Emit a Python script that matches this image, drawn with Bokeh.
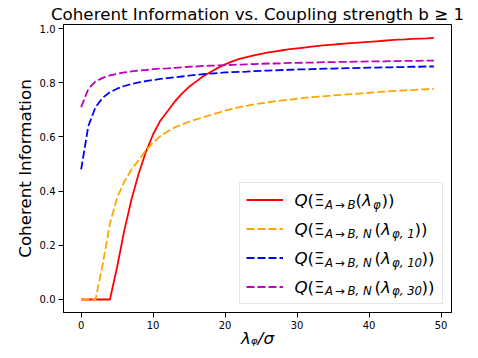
from bokeh.plotting import figure
from bokeh.models import Range1d, Legend, LegendItem, Label, FixedTicker, NumeralTickFormatter
from bokeh.embed import file_html
from bokeh.resources import INLINE

# ---- data ----
lam = [0, 1, 2, 3, 4, 5, 6, 7, 8, 9, 10, 11, 12, 13, 14, 15, 16, 17, 18, 19,
       20, 21, 22, 23, 24, 25, 26, 27, 28, 29, 30, 31, 32, 33, 34, 35, 36, 37, 38, 39,
       40, 41, 42, 43, 44, 45, 46, 47, 48, 49]

q_full = [0, 0, 0, 0, 0, 0.12, 0.255, 0.37, 0.465, 0.545,
          0.61, 0.66, 0.695, 0.73, 0.76, 0.785, 0.805, 0.825, 0.84, 0.855,
          0.868, 0.879, 0.888, 0.895, 0.901, 0.907, 0.912, 0.916, 0.92, 0.924,
          0.927, 0.93, 0.933, 0.936, 0.939, 0.941, 0.943, 0.945, 0.947, 0.949,
          0.951, 0.953, 0.955, 0.957, 0.959, 0.96, 0.962, 0.963, 0.964, 0.966]

q_n1 = [0, 0, 0, 0.13, 0.28, 0.375, 0.435, 0.48, 0.515, 0.55,
        0.58, 0.603, 0.62, 0.635, 0.646, 0.656, 0.665, 0.673, 0.681, 0.689,
        0.697, 0.704, 0.71, 0.715, 0.72, 0.724, 0.728, 0.732, 0.735, 0.738,
        0.741, 0.744, 0.747, 0.749, 0.751, 0.753, 0.755, 0.757, 0.759, 0.761,
        0.763, 0.765, 0.767, 0.769, 0.77, 0.772, 0.773, 0.775, 0.776, 0.777]

q_n10 = [0.48, 0.64, 0.71, 0.745, 0.765, 0.778, 0.788, 0.795, 0.801, 0.806,
         0.81, 0.814, 0.817, 0.82, 0.823, 0.826, 0.829, 0.832, 0.834, 0.836,
         0.838, 0.839, 0.84, 0.841, 0.843, 0.844, 0.845, 0.846, 0.847, 0.848,
         0.849, 0.849, 0.85, 0.851, 0.852, 0.852, 0.853, 0.854, 0.854, 0.855,
         0.856, 0.856, 0.857, 0.857, 0.858, 0.858, 0.859, 0.859, 0.86, 0.86]

q_n30 = [0.71, 0.777, 0.805, 0.818, 0.827, 0.833, 0.838, 0.842, 0.845, 0.847,
         0.85, 0.852, 0.853, 0.855, 0.857, 0.859, 0.86, 0.862, 0.863, 0.864,
         0.865, 0.866, 0.867, 0.868, 0.869, 0.87, 0.871, 0.871, 0.872, 0.873,
         0.873, 0.874, 0.874, 0.875, 0.876, 0.876, 0.877, 0.877, 0.878, 0.878,
         0.879, 0.879, 0.879, 0.88, 0.88, 0.881, 0.881, 0.881, 0.882, 0.882]

x_ticks = [0, 10, 20, 30, 40, 50]
y_ticks = [0.0, 0.2, 0.4, 0.6, 0.8, 1.0]

title_text = "Coherent Information vs. Coupling strength b \u2265 1"
x_label = "\u03bb\u1d69/\u03c3"
y_label = "Coherent Information"

FONT = "DejaVu Sans"

p = figure(width=478, height=358, output_backend="svg", toolbar_location=None,
           x_range=Range1d(-2.45, 51.45), y_range=Range1d(-0.048, 1.015),
           min_border_left=63, min_border_right=27, min_border_top=24, min_border_bottom=46)

p.background_fill_color = "white"
p.border_fill_color = "white"
p.outline_line_color = "black"
p.outline_line_width = 1
p.grid.visible = False

p.title.text = title_text
p.title.text_font = FONT
p.title.text_font_size = "16.7px"
p.title.text_font_style = "normal"
p.title.text_color = "black"
p.title.align = "center"
p.title.standoff = 2

for ax in (p.xaxis, p.yaxis):
    ax.axis_line_color = "black"
    ax.major_tick_line_color = "black"
    ax.major_tick_out = 5
    ax.major_tick_in = 0
    ax.minor_tick_line_color = None
    ax.major_label_text_font = FONT
    ax.major_label_text_font_size = "10px"
    ax.major_label_text_color = "black"
    ax.major_label_standoff = 3
    ax.axis_label_text_font = FONT
    ax.axis_label_text_font_size = "16.7px"
    ax.axis_label_text_color = "black"

p.xaxis.ticker = FixedTicker(ticks=x_ticks)
p.yaxis.ticker = FixedTicker(ticks=y_ticks)
p.yaxis.formatter = NumeralTickFormatter(format="0.0")
p.xaxis.axis_label = x_label
p.xaxis.axis_label_text_font_style = "italic"
p.xaxis.axis_label_standoff = -4
p.yaxis.axis_label = y_label
p.yaxis.axis_label_text_font_style = "normal"
p.yaxis.axis_label_standoff = 2

r_full = p.line(lam, q_full, line_color="red", line_width=1.8)
r_n1 = p.line(lam, q_n1, line_color="orange", line_width=1.8, line_dash="8 3")
r_n10 = p.line(lam, q_n10, line_color="blue", line_width=1.8, line_dash="8 3")
r_n30 = p.line(lam, q_n30, line_color="#bf00bf", line_width=1.8, line_dash="8 3")

legend = Legend(items=[LegendItem(label=" ", renderers=[r]) for r in (r_full, r_n1, r_n10, r_n30)],
                location=(176, 8), padding=6, spacing=8, margin=0,
                label_height=21, glyph_height=21, glyph_width=37,
                label_width=143, label_standoff=10, label_text_font_size="8px",
                border_line_color="#cccccc", border_line_width=1,
                background_fill_color="white", background_fill_alpha=0.0)
p.add_layout(legend)

# legend labels (math-like text built from pieces), positions in frame screen px
FL, FB = 63, 312  # frame left / bottom in canvas px
MAIN, SUB = "16.7px", "11.7px"
TS = "\u2009"  # thin space
sub_ab = "A" + TS + "\u2192" + TS + "B"
sub_abn = sub_ab + ", N"
rows = [
    (199.5, [("Q", MAIN, "italic", 294, 0), ("(\u039e", MAIN, "normal", 307, 0),
             (sub_ab, SUB, "italic", 324.5, 4.5), ("(", MAIN, "normal", 355, 0),
             ("\u03bb", MAIN, "italic", 361.5, 0), ("\u03c6", SUB, "italic", 372.5, 4.5),
             ("))", MAIN, "normal", 381, 0)]),
    (228.5, [("Q", MAIN, "italic", 294, 0), ("(\u039e", MAIN, "normal", 307, 0),
             (sub_abn, SUB, "italic", 324.5, 4.5), ("(", MAIN, "normal", 374, 0),
             ("\u03bb", MAIN, "italic", 380.5, 0), ("\u03c6, 1", SUB, "italic", 391.5, 4.5),
             ("))", MAIN, "normal", 414, 0)]),
    (257.5, [("Q", MAIN, "italic", 294, 0), ("(\u039e", MAIN, "normal", 307, 0),
             (sub_abn, SUB, "italic", 324.5, 4.5), ("(", MAIN, "normal", 374, 0),
             ("\u03bb", MAIN, "italic", 380.5, 0), ("\u03c6, 10", SUB, "italic", 391.5, 4.5),
             ("))", MAIN, "normal", 421, 0)]),
    (286.0, [("Q", MAIN, "italic", 294, 0), ("(\u039e", MAIN, "normal", 307, 0),
             (sub_abn, SUB, "italic", 324.5, 4.5), ("(", MAIN, "normal", 374, 0),
             ("\u03bb", MAIN, "italic", 380.5, 0), ("\u03c6, 30", SUB, "italic", 391.5, 4.5),
             ("))", MAIN, "normal", 421, 0)]),
]
for base, pieces in rows:
    for txt, size, style, cx, dy in pieces:
        p.add_layout(Label(x=cx - FL, y=FB - (base + dy), x_units="screen", y_units="screen",
                           text=txt, text_font=FONT, text_font_size=size,
                           text_font_style=style, text_color="black",
                           text_align="left", text_baseline="alphabetic",
                           level="overlay"))

open("out.html", "w").write(file_html(p, INLINE))
